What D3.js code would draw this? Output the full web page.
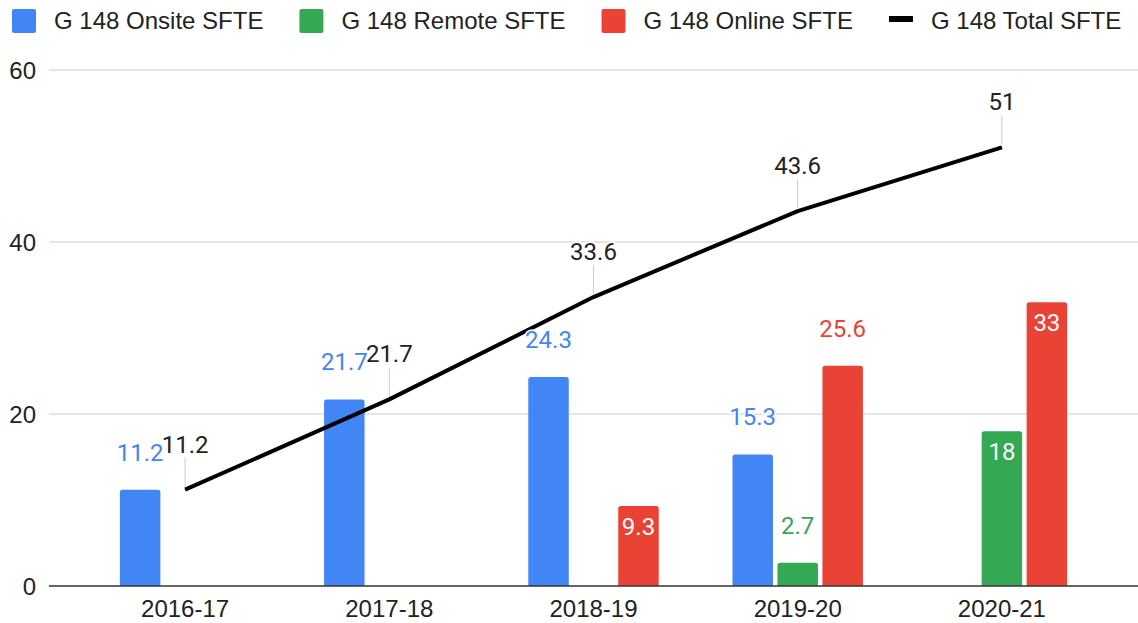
<!DOCTYPE html>
<html>
<head>
<meta charset="utf-8">
<script src="https://cdn.jsdelivr.net/npm/d3@7"></script>
<style>
  html, body { margin: 0; padding: 0; background: #fff; }
  svg { display: block; }
</style>
</head>
<body>
<div id="chart"></div>
<script>
// Chart data
const categories = ["2016-17", "2017-18", "2018-19", "2019-20", "2020-21"];
const onsite = [11.2, 21.7, 24.3, 15.3, null];
const remote = [null, null, null, 2.7, 18];
const online = [null, null, 9.3, 25.6, 33];
const total = [11.2, 21.7, 33.6, 43.6, 51];
const yTicks = [0, 20, 40, 60];

const seriesNames = ["G 148 Onsite SFTE", "G 148 Remote SFTE", "G 148 Online SFTE"];
const lineName = "G 148 Total SFTE";

// Which bar labels sit inside the bar (as in the original)
const insideLabels = {
  "G 148 Remote SFTE": [false, false, false, false, true],
  "G 148 Online SFTE": [false, false, true, false, true],
};

const colors = {
  "G 148 Onsite SFTE": "#4285F4", // Blue
  "G 148 Remote SFTE": "#34A853", // Green
  "G 148 Online SFTE": "#EA4335", // Red
  "G 148 Total SFTE": "#000000",
};

const width = 1138;
const height = 623;
const axisFont = "'Liberation Sans', Arial, sans-serif";
const labelFont = "Roboto, 'Noto Sans', sans-serif";

const barSeries = [
  { name: seriesNames[0], values: onsite },
  { name: seriesNames[1], values: remote },
  { name: seriesNames[2], values: online },
];

const svg = d3
  .select("#chart")
  .append("svg")
  .attr("width", width)
  .attr("height", height)
  .attr("viewBox", `0 0 ${width} ${height}`);

// Scales
const x0 = d3.scaleBand().domain(categories).range([83, 1104]);
const x1 = d3
  .scaleBand()
  .domain(seriesNames)
  .range([0, x0.bandwidth()])
  .paddingInner(0.1)
  .paddingOuter(0.82);
const y = d3.scaleLinear().domain([0, 60]).range([586, 70]);

// Grid lines
svg
  .append("g")
  .attr("class", "grid")
  .selectAll("line")
  .data(yTicks.filter((d) => d !== 0))
  .enter()
  .append("line")
  .attr("x1", 49)
  .attr("x2", width)
  .attr("y1", (d) => y(d))
  .attr("y2", (d) => y(d))
  .attr("stroke", "#cccccc")
  .attr("stroke-width", 1);

// Y axis labels
const yAxis = d3.axisLeft(y).tickValues(yTicks).tickSize(0).tickPadding(0);
svg
  .append("g")
  .attr("transform", "translate(36,0)")
  .call(yAxis)
  .call((g) => g.select(".domain").remove())
  .call((g) =>
    g
      .selectAll("text")
      .attr("font-family", axisFont)
      .attr("font-size", "24px")
      .attr("fill", "#222")
      .attr("dy", "0.35em"),
  );

// Bars with rounded tops
function barPath(x, yTop, w, yBase, r) {
  const h = yBase - yTop;
  r = Math.min(r, h, w / 2);
  return `M${x},${yBase}V${yTop + r}Q${x},${yTop} ${x + r},${yTop}H${x + w - r}Q${x + w},${yTop} ${x + w},${yTop + r}V${yBase}Z`;
}

const barData = [];
barSeries.forEach((s) => {
  s.values.forEach((v, i) => {
    if (v === null) return;
    barData.push({
      series: s.name,
      category: categories[i],
      value: v,
      inside: insideLabels[s.name] ? insideLabels[s.name][i] : false,
    });
  });
});

svg
  .append("g")
  .attr("class", "bars")
  .selectAll("path")
  .data(barData)
  .enter()
  .append("path")
  .attr("d", (d) =>
    barPath(x0(d.category) + x1(d.series), y(d.value), x1.bandwidth(), y(0), 2.5),
  )
  .attr("fill", (d) => colors[d.series]);

// X axis baseline
svg
  .append("line")
  .attr("x1", 49)
  .attr("x2", width)
  .attr("y1", y(0))
  .attr("y2", y(0))
  .attr("stroke", "#333333")
  .attr("stroke-width", 1.5);

// X axis labels
const xAxis = d3.axisBottom(x0).tickSize(0).tickPadding(0);
svg
  .append("g")
  .attr("transform", "translate(0,617)")
  .call(xAxis)
  .call((g) => g.select(".domain").remove())
  .call((g) =>
    g
      .selectAll("text")
      .attr("font-family", axisFont)
      .attr("font-size", "24px")
      .attr("fill", "#222")
      .attr("dy", 0)
      .attr("y", 0),
  );

// Total line
const lineData = total.map((v, i) => ({ category: categories[i], value: v }));
const cx = (d) => x0(d.category) + x0.bandwidth() / 2;

svg
  .append("path")
  .datum(lineData)
  .attr("fill", "none")
  .attr("stroke", colors[lineName])
  .attr("stroke-width", 4)
  .attr("stroke-linejoin", "round")
  .attr(
    "d",
    d3
      .line()
      .x(cx)
      .y((d) => y(d.value)),
  );

// Leader lines for line labels
svg
  .append("g")
  .selectAll("line")
  .data(lineData)
  .enter()
  .append("line")
  .attr("x1", cx)
  .attr("x2", cx)
  .attr("y1", (d) => y(d.value) - 3)
  .attr("y2", (d) => y(d.value) - 32)
  .attr("stroke", "#cccccc")
  .attr("stroke-width", 1);

// Bar labels
svg
  .append("g")
  .attr("class", "bar-labels")
  .selectAll("text")
  .data(barData)
  .enter()
  .append("text")
  .attr("x", (d) => x0(d.category) + x1(d.series) + x1.bandwidth() / 2)
  .attr("y", (d) => (d.inside ? y(d.value) + 29 : y(d.value) - 29))
  .attr("text-anchor", "middle")
  .attr("font-family", labelFont)
  .attr("font-size", "24px")
  .attr("fill", (d) => (d.inside ? "#ffffff" : colors[d.series]))
  .attr("stroke", (d) => (d.inside ? "none" : "#ffffff"))
  .attr("stroke-width", 3)
  .attr("paint-order", "stroke")
  .text((d) => d.value);

// Line labels
svg
  .append("g")
  .attr("class", "line-labels")
  .selectAll("text")
  .data(lineData)
  .enter()
  .append("text")
  .attr("x", cx)
  .attr("y", (d) => y(d.value) - 37)
  .attr("text-anchor", "middle")
  .attr("font-family", labelFont)
  .attr("font-size", "24px")
  .attr("fill", "#222222")
  .attr("stroke", "#ffffff")
  .attr("stroke-width", 3)
  .attr("paint-order", "stroke")
  .text((d) => d.value);

// Legend
const legendItems = [...seriesNames, lineName];
const legend = svg.append("g").attr("class", "legend");
let lx = 12;
legendItems.forEach((name) => {
  const item = legend.append("g").attr("transform", `translate(${lx},0)`);
  if (name === lineName) {
    item
      .append("rect")
      .attr("x", 0)
      .attr("y", 16)
      .attr("width", 24)
      .attr("height", 6)
      .attr("fill", colors[name]);
  } else {
    item
      .append("rect")
      .attr("x", 0)
      .attr("y", 9)
      .attr("width", 24)
      .attr("height", 24)
      .attr("rx", 2)
      .attr("fill", colors[name]);
  }
  const t = item
    .append("text")
    .attr("x", 42)
    .attr("y", 29)
    .attr("font-family", axisFont)
    .attr("font-size", "24px")
    .attr("fill", "#222")
    .text(name);
  lx += 42 + t.node().getComputedTextLength() + 36;
});
</script>
</body>
</html>
